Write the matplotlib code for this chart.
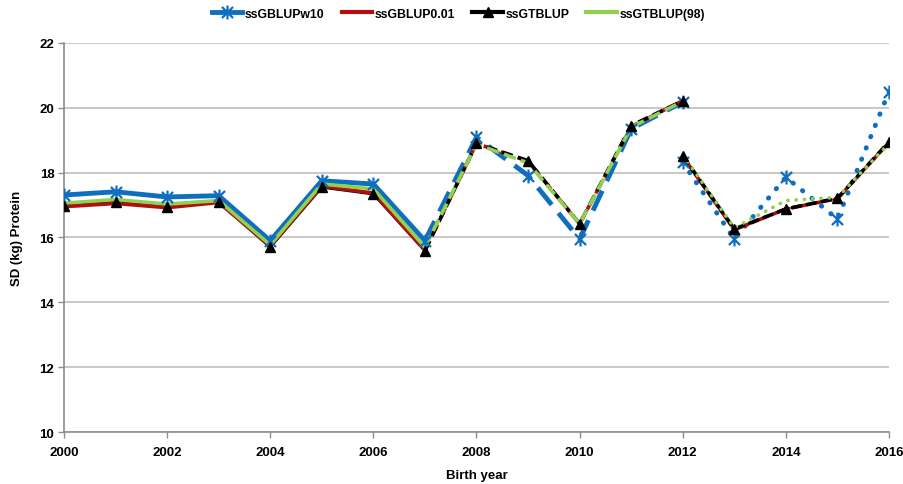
import matplotlib
matplotlib.use("Agg")
import matplotlib.pyplot as plt
from matplotlib.lines import Line2D
from matplotlib.path import Path

plt.rcParams['font.family'] = ['Liberation Sans', 'DejaVu Sans']

# ---- data ----
years_a = [2000, 2001, 2002, 2003, 2004, 2005, 2006, 2007, 2008, 2009, 2010, 2011, 2012]
years_b = [2012, 2013, 2014, 2015, 2016]
split_year = 2007

w10_a = [17.31, 17.41, 17.25, 17.29, 15.90, 17.75, 17.65, 15.90, 19.09, 17.91, 15.95, 19.35, 20.18]
w10_b = [18.32, 15.95, 17.86, 16.57, 20.50]

p001_a = [16.95, 17.05, 16.92, 17.08, 15.74, 17.58, 17.37, 15.60, 18.90, 18.35, 16.42, 19.42, 20.22]
p001_b = [18.50, 16.24, 16.88, 17.20, 18.93]

gt_a = [16.98, 17.09, 16.95, 17.09, 15.70, 17.55, 17.34, 15.59, 18.90, 18.37, 16.42, 19.45, 20.22]
gt_b = [18.52, 16.26, 16.88, 17.21, 18.95]

gt98_a = [17.06, 17.17, 17.03, 17.14, 15.77, 17.65, 17.50, 15.70, 18.88, 18.30, 16.42, 19.40, 20.20]
gt98_b = [18.55, 16.30, 17.14, 17.24, 18.90]

labels = ['ssGBLUPw10', 'ssGBLUP0.01', 'ssGTBLUP', 'ssGTBLUP(98)']

BLUE = '#0F6FBF'
RED = '#B40F0F'
BLACK = '#000000'
GREEN = '#92D050'

fig = plt.figure(figsize=(9.04, 4.85), dpi=100)
ax = fig.add_axes([0.0708, 0.1072, 0.9126, 0.8021])

def split(years, vals):
    i = years.index(split_year)
    return (years[:i + 1], vals[:i + 1]), (years[i:], vals[i:])

# Excel-like star: X plus a vertical bar
star = Path([(0, -1), (0, 1), (-0.8, -0.8), (0.8, 0.8), (-0.8, 0.8), (0.8, -0.8)],
            [Path.MOVETO, Path.LINETO, Path.MOVETO, Path.LINETO, Path.MOVETO, Path.LINETO])

def draw(ya, va, yb, vb, color, lw, dash2, dash3, marker=None, ms=0, mew=1.0, z=2, lw1=None, z1=None):
    (x1, v1), (x2, v2) = split(ya, va)
    ax.plot(x1, v1, color=color, lw=lw1 or lw, solid_capstyle='round', solid_joinstyle='round',
            zorder=z1 if z1 is not None else z)
    ax.plot(x2, v2, color=color, lw=lw, dashes=dash2, zorder=z)
    ax.plot(yb, vb, color=color, lw=lw, dashes=dash3, zorder=z, dash_capstyle='round')
    if marker is not None:
        ax.plot(ya, va, ls='none', marker=marker, ms=ms, mec=color, mfc=color, mew=mew, zorder=6)
        ax.plot(yb, vb, ls='none', marker=marker, ms=ms, mec=color, mfc=color, mew=mew, zorder=6)

draw(years_a, w10_a, years_b, w10_b, BLUE, 3.5, (4.5, 2.2), (0.1, 2.4), marker=star, ms=10, mew=1.6, z=2)
draw(years_a, p001_a, years_b, p001_b, RED, 2.6, (3, 2), (5, 1), z=3)
draw(years_a, gt_a, years_b, gt_b, BLACK, 2.6, (3, 1.5), (2.4, 1.8), marker='^', ms=7, z=4, lw1=2.0, z1=2.5)
draw(years_a, gt98_a, years_b, gt98_b, GREEN, 2.6, (3.5, 1.5), (0.1, 2.2), z=5)

ax.set_xlim(2000, 2016)
ax.set_ylim(10, 22)
ax.set_xticks(range(2000, 2017, 2))
ax.set_yticks(range(10, 23, 2))
ax.yaxis.grid(True, color='#BFBFBF', lw=1.2)
ax.set_axisbelow(True)
for s in ['top', 'right']:
    ax.spines[s].set_visible(False)
for s in ['left', 'bottom']:
    ax.spines[s].set_color('#8C8C8C')
    ax.spines[s].set_linewidth(1.2)
ax.tick_params(axis='both', direction='out', length=4, color='#8C8C8C', width=1.0,
               labelsize=9.5, pad=3)
for lab in ax.get_xticklabels() + ax.get_yticklabels():
    lab.set_fontweight('bold')
ax.tick_params(axis='x', pad=6)

ax.set_xlabel('Birth year', fontsize=9.5, fontweight='bold', labelpad=8)
ax.set_ylabel('SD (kg) Protein', fontsize=9.5, fontweight='bold', labelpad=12)

handles = [
    Line2D([], [], color=BLUE, lw=3.5, marker=star, ms=10, mew=1.6),
    Line2D([], [], color=RED, lw=3),
    Line2D([], [], color=BLACK, lw=3, marker='^', ms=7),
    Line2D([], [], color=GREEN, lw=3),
]
fig.legend(handles, labels, loc='upper center', bbox_to_anchor=(0.507, 1.005), ncol=4,
           frameon=False, prop={'weight': 'bold', 'size': 8.8}, handlelength=2.5,
           columnspacing=1.4, handletextpad=0.2)

fig.savefig('out.png', dpi=100)
